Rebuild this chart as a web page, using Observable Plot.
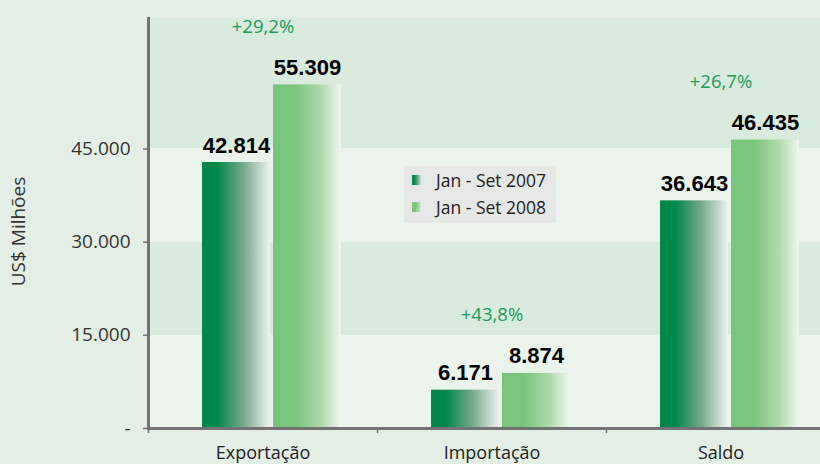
<!DOCTYPE html>
<html>
<head>
<meta charset="utf-8">
<script src="https://cdn.jsdelivr.net/npm/d3@7"></script>
<script src="https://cdn.jsdelivr.net/npm/@observablehq/plot@0.6"></script>
<style>
  html, body { margin: 0; padding: 0; background: #e3efe4; }
  #wrap { position: relative; width: 820px; height: 464px; overflow: hidden; }
  #legend { position: absolute; left: 404px; top: 166px; width: 152px; height: 57px;
            background: #e6e8e6; font-family: "Open Sans", sans-serif; font-size: 17.5px; color: #222; }
  .row { position: absolute; left: 8px; height: 22px; display: flex; align-items: center; white-space: nowrap; }
  .sw { width: 10px; height: 10px; margin-right: 14px; flex: none; }
</style>
</head>
<body>
<div id="wrap"><div id="legend"></div></div>
<script>
// ---- data ----
const categories = ["Exportação", "Importação", "Saldo"];
const series = ["Jan - Set 2007", "Jan - Set 2008"];
const values2007 = [42814, 6171, 36643];
const values2008 = [55309, 8874, 46435];
const changeLabels = ["+29,2%", "+43,8%", "+26,7%"];
const yTicks = [0, 15000, 30000, 45000];
const yTickLabels = ["-", "15.000", "30.000", "45.000"];
const yTitle = "US$ Milhões";
const yMax = 66000;

// ---- derived tables ----
const data = categories.flatMap((c, i) => [
  {category: c, series: series[0], value: values2007[i]},
  {category: c, series: series[1], value: values2008[i]}
]);
const changes = categories.map((c, i) => ({
  category: c, top: Math.max(values2007[i], values2008[i]), label: changeLabels[i]
}));
const edges = [...yTicks, yMax];
const bandRows = edges.slice(0, -1).map((v, i) => ({y1: v, y2: edges[i + 1], dark: i % 2 === 1}));

const ptBR = d3.formatLocale({decimal: ",", thousands: ".", grouping: [3], currency: ["", ""]});
const fmt = ptBR.format(",d");

const W = 820, H = 464, mL = 148, mR = -15;
const fxBand = (W - mR - mL) / categories.length;

const colors = {
  dark: "#d9ebdc", light: "#eaf4eb", axis: "#737373", text: "#333333", change: "#23995a"
};

const chart = Plot.plot({
  width: W, height: H,
  marginLeft: mL, marginRight: mR, marginTop: 18, marginBottom: 36,
  style: {background: "transparent", fontFamily: "'Open Sans', sans-serif", fontSize: "19px", color: colors.text},
  fx: {domain: categories, padding: 0, axis: null, label: null},
  x: {domain: series, paddingInner: 0.042, paddingOuter: 0.613, align: 0.6, axis: null, label: null},
  y: {domain: [0, yMax], axis: null},
  marks: [
    Plot.rectY(bandRows.filter(d => d.dark), {y1: "y1", y2: "y2", fill: colors.dark, shapeRendering: "crispEdges"}),
    Plot.rectY(bandRows.filter(d => !d.dark), {y1: "y1", y2: "y2", fill: colors.light, shapeRendering: "crispEdges"}),
    Plot.barY(data.filter(d => d.series === series[0]), {fx: "category", x: "series", y: "value", fill: "url(#grad2007)"}),
    Plot.barY(data.filter(d => d.series === series[1]), {fx: "category", x: "series", y: "value", fill: "url(#grad2008)"}),
    Plot.text(data, {
      fx: "category", x: "series", y: "value", text: d => fmt(d.value),
      dy: -10, lineAnchor: "bottom", fontSize: 22, fontWeight: "bold",
      fontFamily: "'Liberation Sans', Arial, sans-serif", fill: "#000"
    }),
    Plot.text(changes, {
      fx: "category", y: "top", text: "label", dy: -52, lineAnchor: "bottom",
      fontSize: 18.5, fill: colors.change
    }),
    Plot.ruleY([0], {stroke: colors.axis, strokeWidth: 3}),
    Plot.frame({anchor: "left", facetAnchor: "left", stroke: colors.axis, strokeWidth: 3}),
    Plot.axisY({
      ticks: yTicks, tickFormat: d => yTickLabels[yTicks.indexOf(d)],
      tickSize: 5, tickPadding: 13, stroke: colors.axis, strokeWidth: 1.5,
      fill: colors.text, fontSize: 19, label: null
    }),
    Plot.text([yTitle], {
      text: d => d, frameAnchor: "left", facetAnchor: "left", rotate: -90,
      dx: -130, dy: 8, textAnchor: "middle", lineAnchor: "middle",
      fontSize: 19, fill: colors.text
    }),
    Plot.axisFx({anchor: "bottom", tickSize: 5, tickFormat: () => "", dx: -fxBand / 2,
      stroke: colors.axis, strokeWidth: 1.5, label: null}),
    Plot.axisFx({anchor: "bottom", tickSize: 0, tickPadding: 18, fontSize: 18, fill: "#222", label: null})
  ]
});

// gradients used by the bars
const defs = d3.select(chart).insert("defs", ":first-child");
function grad(id, stops) {
  const g = defs.append("linearGradient").attr("id", id)
    .attr("x1", "0").attr("y1", "0").attr("x2", "1").attr("y2", "0");
  stops.forEach(([o, c]) => g.append("stop").attr("offset", o).attr("stop-color", c));
}
const stops2007 = [[0, "#00884a"], [0.22, "#00884a"], [0.6, "#74a789"], [1, "#eef3ef"]];
const stops2008 = [[0, "#7ac57c"], [0.33, "#7ac57c"], [0.7, "#aed9ac"], [1, "#f0f7ee"]];
grad("grad2007", stops2007);
grad("grad2008", stops2008);

document.getElementById("wrap").prepend(chart);

// legend (inside plot area, as in the reference)
const legend = d3.select("#legend");
[stops2007, stops2008].forEach((st, i) => {
  const row = legend.append("div").attr("class", "row").style("top", (i === 0 ? 2.5 : 29.5) + "px");
  row.append("div").attr("class", "sw")
    .style("background", `linear-gradient(to right, ${st.map(([o, c]) => `${c} ${o * 100}%`).join(", ")})`);
  row.append("span").text(series[i]);
});
</script>
</body>
</html>
